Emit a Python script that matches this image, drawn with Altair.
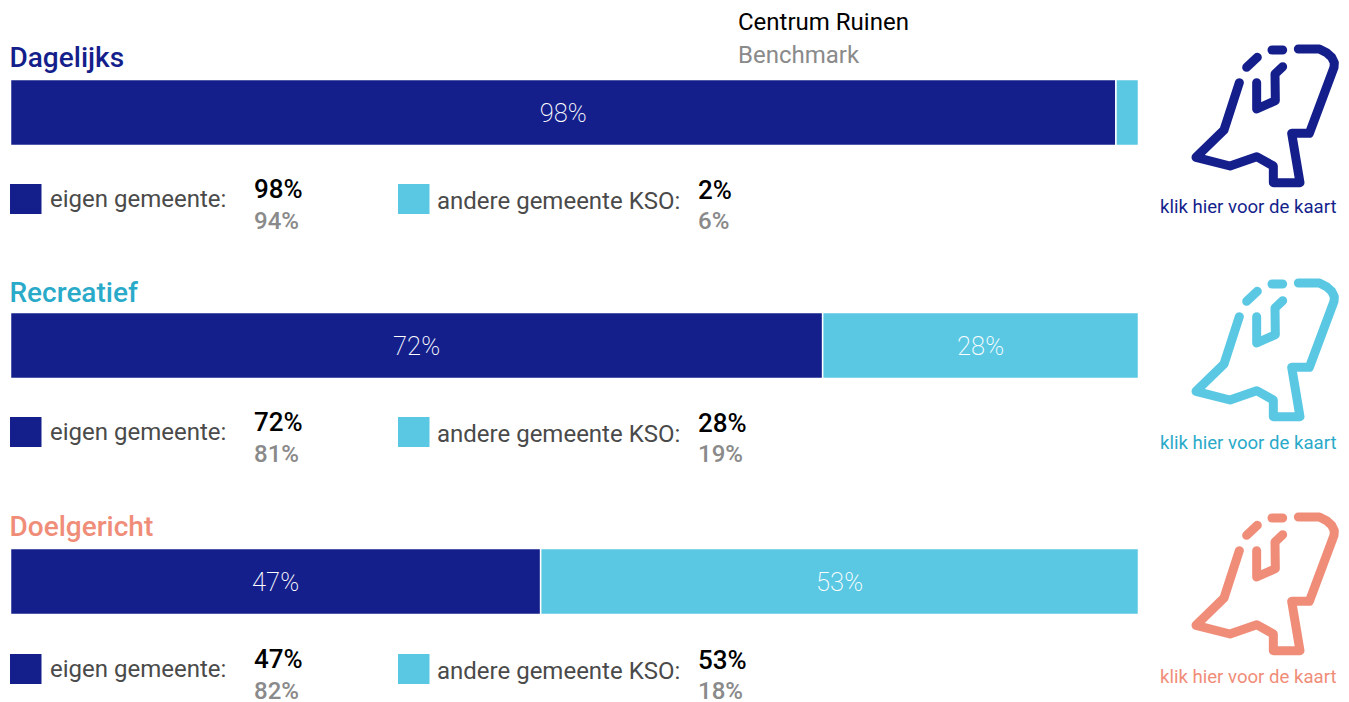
import altair as alt
import pandas as pd

# --- data
groups = ["Dagelijks", "Recreatief", "Doelgericht"]
own_values = [98, 72, 47]
other_values = [2, 28, 53]
own_benchmark = [94, 81, 82]
other_benchmark = [6, 19, 18]
own_label = "eigen gemeente:"
other_label = "andere gemeente KSO:"
link_label = "klik hier voor de kaart"
header_labels = ["Centrum Ruinen", "Benchmark"]

# icon outline, in icon units
outline_x = [268, 222, 138, 240, 320, 370, 370, 450, 425, 478, 552, 553, 545, 530, 508, 445]
outline_y = [158, 300, 382, 408, 380, 408, 458, 458, 310, 310, 112, 98, 82, 68, 57, 57]
inner_x = [320, 320, 376, 375, 398]
inner_y = [158, 237, 212, 132, 110]
dash1_x = [290, 322]
dash1_y = [112, 82]
dash2_x = [366, 398]
dash2_y = [60, 60]

# --- styles and layout (page pixels)
NAVY = "#151F8C"
LIGHT = "#5AC8E3"
SALMON = "#F08D79"
TITLE_COLORS = [NAVY, "#2AAAC9", SALMON]
ICON_COLORS = [NAVY, LIGHT, SALMON]
LINK_COLORS = [NAVY, "#2AAAC9", SALMON]
GREY_TEXT = "#4A4A4A"
BENCH = "#8A8A8A"
FONT = "Roboto"
M = 8  # page margin

title_base = [67, 302, 536]
bar_top = [79.5, 312.5, 548.5]
swatch_top = [184, 417, 654]
link_base = [212.5, 449, 683]
icon_shift = [0, 234, 468]
BAR_H = 66
BAR_X0, BAR_X1 = 10.5, 1138.5

layers = []


def text(label, x, y, color, size, weight=400, align="left"):
    return (
        alt.Chart(pd.DataFrame({"t": [label]}))
        .mark_text(align=align, baseline="alphabetic", font=FONT, fontSize=size,
                   fontWeight=weight, color=color)
        .encode(x=alt.value(x - M), y=alt.value(y - M), text="t:N")
    )


def swatch(x, y, color):
    return alt.Chart(pd.DataFrame({"a": [0]})).mark_rect(color=color).encode(
        x=alt.value(x - M), x2=alt.value(x + 31.5 - M),
        y=alt.value(y - M), y2=alt.value(y + 30 - M),
    )


layers.append(text(header_labels[0], 738, 30, "#000000", 24))
layers.append(text(header_labels[1], 738, 62.5, BENCH, 24))

bar_scale = alt.Scale(domain=[0, 100], range=[BAR_X0 - M, BAR_X1 - M])
icon_parts = [("a", outline_x, outline_y), ("b", inner_x, inner_y),
              ("c", dash1_x, dash1_y), ("d", dash2_x, dash2_y)]

for i, g in enumerate(groups):
    own, oth = own_values[i], other_values[i]
    layers.append(text(g, 9.5, title_base[i], TITLE_COLORS[i], 28, 500))

    bars = pd.DataFrame({
        "start": [0, own], "end": [own, own + oth],
        "mid": [own / 2, own + oth / 2], "val": [own, oth],
        "label": [f"{own}%", f"{oth}%"], "part": ["own", "other"],
    })
    layers.append(
        alt.Chart(bars).mark_rect(stroke="white", strokeWidth=1.5).encode(
            x=alt.X("start:Q", scale=bar_scale, axis=None),
            x2="end:Q",
            y=alt.value(bar_top[i] - M), y2=alt.value(bar_top[i] + BAR_H - M),
            color=alt.Color("part:N", legend=None,
                            scale=alt.Scale(domain=["own", "other"], range=[NAVY, LIGHT])),
        )
    )
    layers.append(
        alt.Chart(bars[bars.val >= 5]).mark_text(
            font=FONT, fontSize=25.5, fontWeight=200, color="white", baseline="middle"
        ).encode(
            x=alt.X("mid:Q", scale=bar_scale, axis=None),
            y=alt.value(bar_top[i] + BAR_H / 2 + 1.3 - M),
            text="label:N",
        )
    )

    st = swatch_top[i]
    layers.append(swatch(10, st, NAVY))
    layers.append(swatch(398, st, LIGHT))
    layers.append(text(own_label, 50, st + 23, GREY_TEXT, 24))
    layers.append(text(other_label, 437, st + 25, GREY_TEXT, 24))
    layers.append(text(f"{own}%", 254, st + 13.6, "#000000", 26, 500))
    layers.append(text(f"{own_benchmark[i]}%", 254, st + 45, BENCH, 24, 500))
    layers.append(text(f"{oth}%", 698, st + 14.6, "#000000", 26, 500))
    layers.append(text(f"{other_benchmark[i]}%", 698, st + 45, BENCH, 24, 500))

    layers.append(text(link_label, 1160, link_base[i], LINK_COLORS[i], 18.6))

    rows = []
    for name, xs, ys in icon_parts:
        for k, (px, py) in enumerate(zip(xs, ys)):
            rows.append({"part": name, "k": k, "px": px, "py": py})
    dy = icon_shift[i]
    layers.append(
        alt.Chart(pd.DataFrame(rows)).mark_line(
            color=ICON_COLORS[i], strokeWidth=9, strokeCap="round", strokeJoin="round"
        ).encode(
            x=alt.X("px:Q", axis=None,
                    scale=alt.Scale(domain=[0, 597], range=[1150 - M, 1349 - M])),
            y=alt.Y("py:Q", axis=None,
                    scale=alt.Scale(domain=[0, 570], range=[30 + dy - M, 220 + dy - M])),
            detail="part:N",
            order="k:Q",
        )
    )

chart = (
    alt.layer(*layers)
    .resolve_scale(x="independent", y="independent", color="independent")
    .properties(width=1333, height=694, padding=0, autosize=alt.AutoSizeParams(type="none"),
                background="white")
    .configure_view(stroke=None)
)

chart.save("out.html", embed_options={"renderer": "svg", "actions": False})
